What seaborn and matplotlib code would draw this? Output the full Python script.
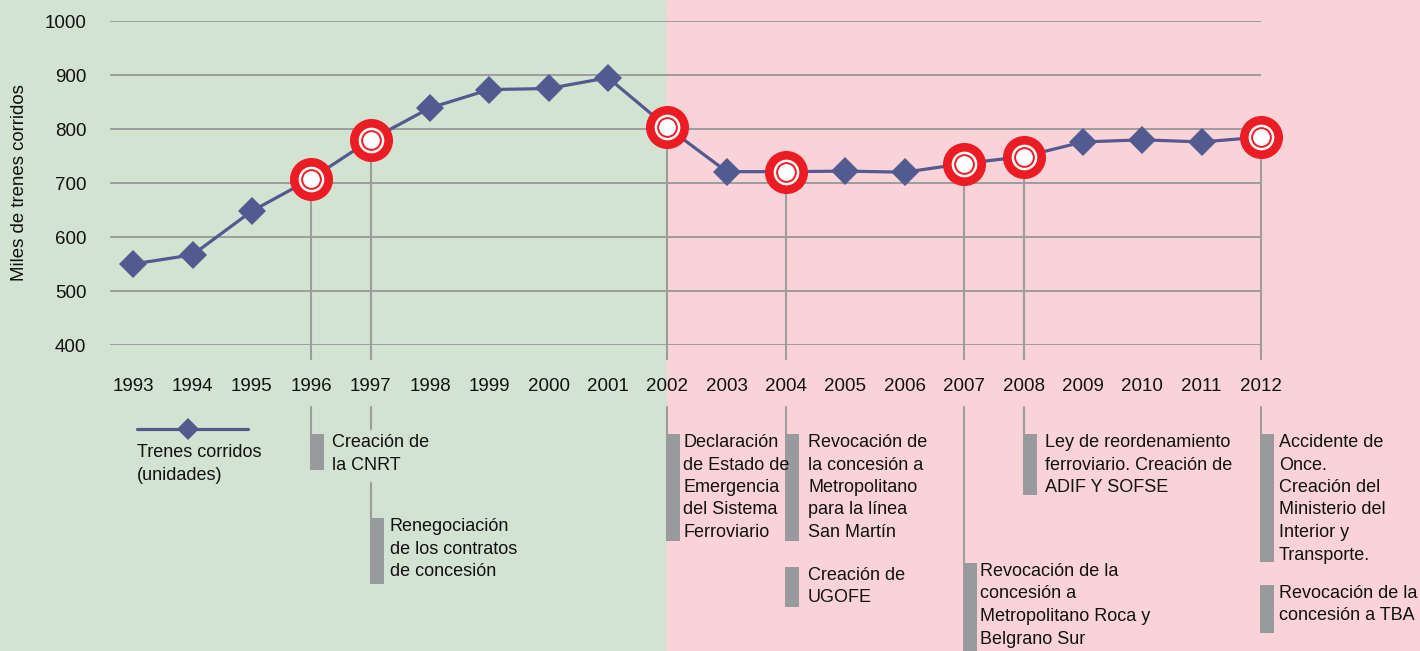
import matplotlib
matplotlib.use("Agg")
import matplotlib.pyplot as plt
import pandas as pd
import seaborn as sns
from matplotlib.lines import Line2D
from matplotlib.patches import Rectangle

# --- data -------------------------------------------------------------
YEARS = list(range(1993, 2013))
TRENES_MILES = [550, 567, 648, 708, 780, 839, 873, 875, 895, 803,
                721, 721, 722, 720, 736, 749, 776, 780, 776, 785]
EVENT_YEARS = [1996, 1997, 2002, 2004, 2007, 2008, 2012]

NOTE_YEARS = [1996, 1997, 2002, 2004, 2004, 2007, 2008, 2012, 2012]
NOTE_TEXTS = [
    ["Creación de", "la CNRT"],
    ["Renegociación", "de los contratos", "de concesión"],
    ["Declaración", "de Estado de", "Emergencia", "del Sistema", "Ferroviario"],
    ["Revocación de", "la concesión a", "Metropolitano", "para la línea", "San Martín"],
    ["Creación de", "UGOFE"],
    ["Revocación de la", "concesión a", "Metropolitano Roca y", "Belgrano Sur"],
    ["Ley de reordenamiento", "ferroviario. Creación de", "ADIF Y SOFSE"],
    ["Accidente de", "Once.", "Creación del", "Ministerio del", "Interior y", "Transporte."],
    ["Revocación de la", "concesión a TBA"],
]
LEGEND_TEXT = ["Trenes corridos", "(unidades)"]
Y_LABEL = "Miles de trenes corridos"
CRISIS_YEAR = 2002

# --- layout (pixels from the top of the figure) ------------------------
W, H = 1420, 651
NOTE_BARS = [(434, 470), (518, 584), (434, 541), (434, 541), (567, 607),
             (563, 651), (434, 495), (434, 562), (585, 633)]
NOTE_TEXT_GAP = [21, 19, 16, 22, 22, 16, 21, 18, 18]
CONNECTORS = {1996: [(407, 434)], 1997: [(407, 429), (483, 518)],
              2002: [(407, 434)], 2004: [(407, 434)], 2007: [(407, 563)],
              2008: [(407, 434)], 2012: [(407, 434)]}
LINE_STEP = 22.5

GREEN = "#D3E3D1"
PINK = "#F9D3D8"
NAVY = "#525A8F"
RED = "#EC1C24"
GRID = "#9D9D9D"
BAR = "#999A9E"

sns.set_style("white")
plt.rcParams["font.family"] = ["Liberation Sans", "DejaVu Sans"]

df = pd.DataFrame({"year": YEARS, "trenes": TRENES_MILES})
events = df[df["year"].isin(EVENT_YEARS)]

fig = plt.figure(figsize=(W / 100, H / 100), dpi=100)
ax = fig.add_axes([110 / W, 1 - 345 / H, (1261 - 110) / W, (345 - 21) / H])
ax.patch.set_visible(False)


def fy(py):
    return 1 - py / H


ax.set_xlim(1992.61, 2012)
ax.set_ylim(400, 1000)

# background split at the crisis year
x_crisis = ax.transData.transform((CRISIS_YEAR, 0))[0] / W
fig.add_artist(Rectangle((0, 0), x_crisis, 1, transform=fig.transFigure,
                         color=GREEN, zorder=-2))
fig.add_artist(Rectangle((x_crisis, 0), 1 - x_crisis, 1, transform=fig.transFigure,
                         color=PINK, zorder=-2))

ax.set_yticks(range(400, 1001, 100))
ax.yaxis.grid(True, color=GRID, linewidth=1.4)
ax.xaxis.grid(False)
ax.set_xticks(YEARS)
ax.set_xticklabels([str(y) for y in YEARS])
ax.tick_params(axis="x", length=0, pad=24, labelsize=13.5, colors="#111111")
ax.tick_params(axis="y", length=0, pad=17, labelsize=13.5, colors="#111111")
sns.despine(ax=ax, left=True, bottom=True)

# event drop lines from the points to below the axis
ax.vlines(events["year"], 372, events["trenes"], color=GRID, linewidth=1.5,
          zorder=2, clip_on=False)

sns.lineplot(data=df, x="year", y="trenes", ax=ax, color=NAVY, linewidth=2.3,
             marker="D", markersize=14.5, markeredgewidth=0, zorder=3,
             clip_on=False)

# target markers for the events
ax.plot(events["year"], events["trenes"], "o", color=RED, ms=31, mew=0,
        zorder=4, clip_on=False)
ax.plot(events["year"], events["trenes"], "o", color="white", ms=18.5, mew=0,
        zorder=5, clip_on=False)
ax.plot(events["year"], events["trenes"], "o", mfc="white", mec=RED, ms=13.5,
        mew=1.4, zorder=6, clip_on=False)

ax.set_xlabel("")
ax.set_ylabel(Y_LABEL, fontsize=13.4, color="#111111")
ax.yaxis.set_label_coords(-0.071, 0.5)


# annotations below the axis
def year_px(year):
    return ax.transData.transform((year, 0))[0]


for year, segs in CONNECTORS.items():
    xp = year_px(year) / W
    for top, bottom in segs:
        fig.add_artist(Line2D([xp, xp], [fy(top), fy(bottom)],
                              transform=fig.transFigure, color=GRID,
                              linewidth=1.5))

for year, lines, (top, bottom), gap in zip(NOTE_YEARS, NOTE_TEXTS, NOTE_BARS,
                                           NOTE_TEXT_GAP):
    xp = year_px(year)
    fig.add_artist(Rectangle(((xp - 1) / W, fy(bottom)), 14 / W,
                             (bottom - top) / H, transform=fig.transFigure,
                             color=BAR, linewidth=0))
    for i, line in enumerate(lines):
        fig.text((xp + gap) / W, fy(top + 13 + i * LINE_STEP), line,
                 fontsize=13, va="baseline", ha="left", color="#111111",
                 zorder=3)

# legend
fig.add_artist(Line2D([137 / W, 248 / W], [fy(429), fy(429)],
                      transform=fig.transFigure, color=NAVY, linewidth=2.3))
fig.add_artist(Line2D([188 / W], [fy(429)], transform=fig.transFigure,
                      marker="D", markersize=11, color=NAVY, mew=0))
for i, line in enumerate(LEGEND_TEXT):
    fig.text(137 / W, fy(457 + i * LINE_STEP), line, fontsize=13,
             va="baseline", ha="left", color="#111111")

fig.savefig("out.png", dpi=100)
